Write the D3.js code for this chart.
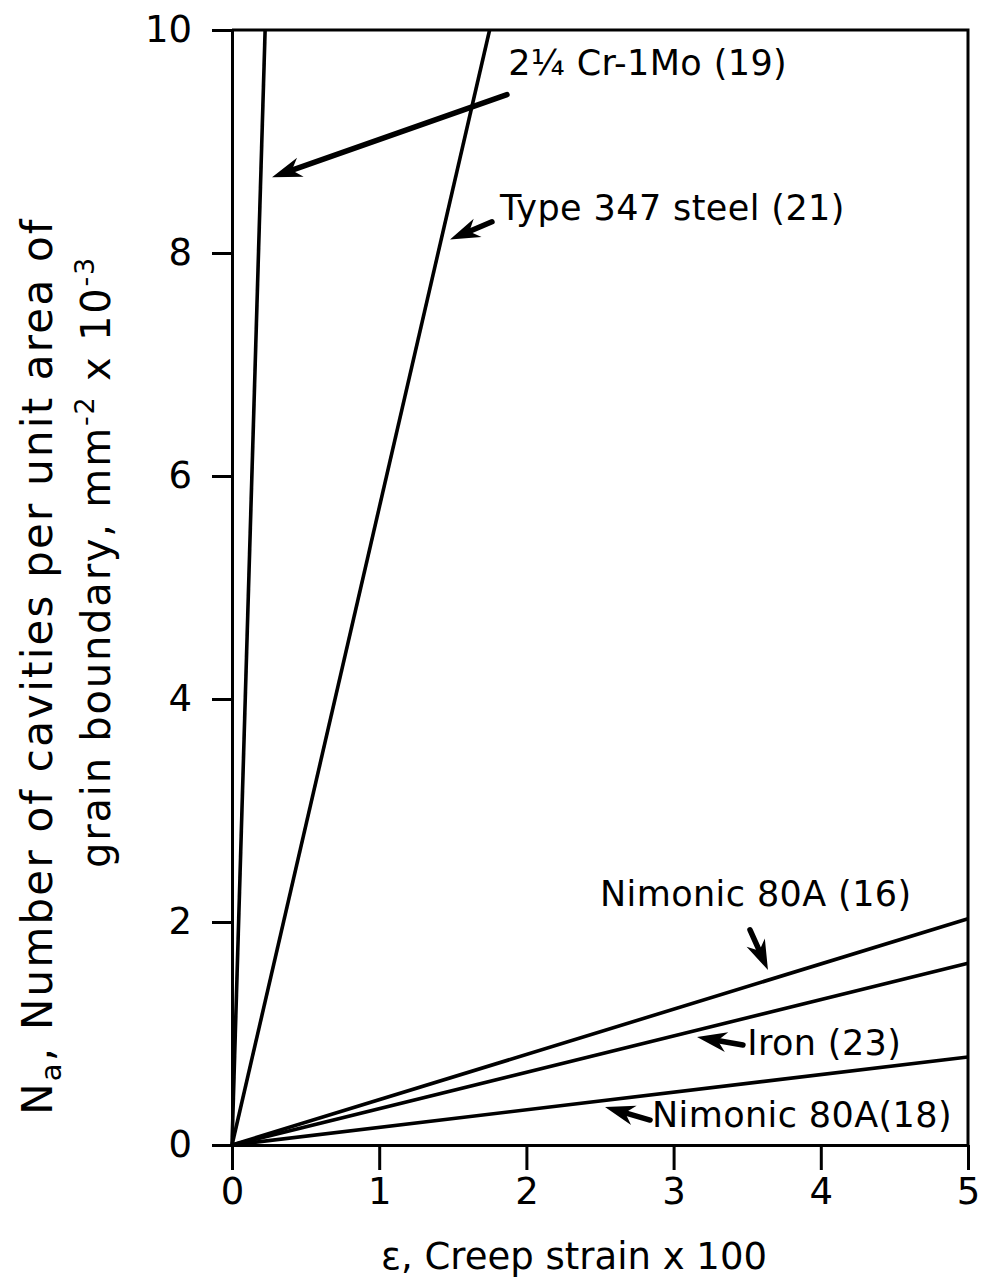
<!DOCTYPE html>
<html>
<head>
<meta charset="utf-8">
<script src="https://cdn.jsdelivr.net/npm/d3@7"></script>
<style>
  html, body { margin: 0; padding: 0; background: #fff; }
  svg { display: block; }
  text { font-family: "DejaVu Sans", sans-serif; fill: #000; }
</style>
</head>
<body>
<svg id="chart" width="985" height="1281"></svg>
<script>
// Creep strain (x 100) against cavities per unit grain-boundary area (mm^-2 x 10^-3)
const xTicks = [0, 1, 2, 3, 4, 5];
const yTicks = [0, 2, 4, 6, 8, 10];

// Each material is a straight line from the origin to its end point
const seriesNames = ["2¼Cr-1Mo (19)", "Type 347 steel (21)", "Nimonic 80A (16)", "Iron (23)", "Nimonic 80A (18)"];
const strainEnd   = [0.225, 1.75, 5, 5, 5];
const cavityEnd   = [10, 10, 2.03, 1.63, 0.79];

// Labels with pointer arrows, in data units: text anchor, arrow tail, arrow tip
const labelText  = ["2¼ Cr-1Mo (19)", "Type 347 steel (21)", "Nimonic 80A (16)", "Iron (23)", "Nimonic 80A(18)"];
const labelPos   = [[1.876, 9.60], [1.821, 8.30], [2.50, 2.14], [3.50, 0.81], [2.853, 0.161]];
const arrowTail  = [[1.868, 9.42], [1.766, 8.28], [3.519, 1.93], [3.471, 0.897], [2.840, 0.224]];
const arrowTip   = [[0.272, 8.68], [1.481, 8.12], [3.641, 1.57], [3.159, 0.969], [2.534, 0.341]];

const svg = d3.select("#chart");
const x = d3.scaleLinear().domain([0, 5]).range([232, 968]);
const y = d3.scaleLinear().domain([0, 10]).range([1145, 30]);

const ink = "#000";

// Axes
const gx = svg.append("g")
  .attr("transform", `translate(0,${y(0)})`)
  .call(d3.axisBottom(x).tickValues(xTicks).tickFormat(d3.format("d"))
        .tickSize(25).tickSizeOuter(0).tickPadding(8));
const gy = svg.append("g")
  .attr("transform", `translate(${x(0)},0)`)
  .call(d3.axisLeft(y).tickValues(yTicks).tickFormat(d3.format("d"))
        .tickSize(20).tickSizeOuter(0).tickPadding(20));
[gx, gy].forEach(g => {
  g.selectAll("path.domain").attr("stroke", ink).attr("stroke-width", 3);
  g.selectAll(".tick line").attr("stroke", ink).attr("stroke-width", 3);
  g.selectAll(".tick text").attr("fill", ink).style("font-size", "37px")
    .style("font-family", "DejaVu Sans, sans-serif");
});

// Top and right border of the frame
svg.append("path")
  .attr("d", `M${x(0)},${y(10)}H${x(5)}V${y(0)}`)
  .attr("fill", "none").attr("stroke", ink).attr("stroke-width", 3);

// Series lines
const line = d3.line().x(d => x(d[0])).y(d => y(d[1]));
svg.append("g").selectAll("path")
  .data(seriesNames.map((n, i) => ({ name: n, pts: [[0, 0], [strainEnd[i], cavityEnd[i]]] })))
  .join("path")
  .attr("d", d => line(d.pts))
  .attr("fill", "none").attr("stroke", ink).attr("stroke-width", 3.6);

// Pointer arrows
const arrows = svg.append("g");
labelText.forEach((t, i) => {
  const x1 = x(arrowTail[i][0]), y1 = y(arrowTail[i][1]);
  const x2 = x(arrowTip[i][0]), y2 = y(arrowTip[i][1]);
  const ang = Math.atan2(y2 - y1, x2 - x1);
  const headLen = 30, headHalf = 10;
  const c = Math.cos(ang), s = Math.sin(ang);
  const bx = x2 - headLen * c, by = y2 - headLen * s;
  arrows.append("line")
    .attr("x1", x1).attr("y1", y1).attr("x2", bx + 8 * c).attr("y2", by + 8 * s)
    .attr("stroke", ink).attr("stroke-width", 5.5).attr("stroke-linecap", "round");
  const px = -s, py = c;
  arrows.append("path")
    .attr("d", `M${x2},${y2}L${bx + headHalf * px},${by + headHalf * py}L${bx + 9 * c},${by + 9 * s}L${bx - headHalf * px},${by - headHalf * py}Z`)
    .attr("fill", ink);
});

// Label texts
svg.append("g").selectAll("text")
  .data(labelText.map((t, i) => ({ t, p: labelPos[i] })))
  .join("text")
  .attr("x", d => x(d.p[0])).attr("y", d => y(d.p[1]))
  .style("font-size", "35px")
  .style("letter-spacing", "0.4px")
  .text(d => d.t);

// Axis titles
svg.append("text")
  .attr("x", 574).attr("y", 1269)
  .attr("text-anchor", "middle")
  .style("font-size", "37px")
  .text("ε, Creep strain x 100");

const t1 = svg.append("text")
  .attr("transform", "translate(52,666) rotate(-90)")
  .attr("text-anchor", "middle")
  .style("font-size", "42px")
  .style("letter-spacing", "2.2px");
t1.append("tspan").text("N");
t1.append("tspan").attr("dy", 9).style("font-size", "29px").text("a");
t1.append("tspan").attr("dy", -9).text(", Number of cavities per unit area of");

const t2 = svg.append("text")
  .attr("transform", "translate(110,562) rotate(-90)")
  .attr("text-anchor", "middle")
  .style("font-size", "40px")
  .style("letter-spacing", "1.8px");
t2.append("tspan").text("grain boundary, mm");
t2.append("tspan").attr("dy", -16).style("font-size", "27px").text("-2");
t2.append("tspan").attr("dy", 16).text(" x 10");
t2.append("tspan").attr("dy", -16).style("font-size", "27px").text("-3");
</script>
</body>
</html>
